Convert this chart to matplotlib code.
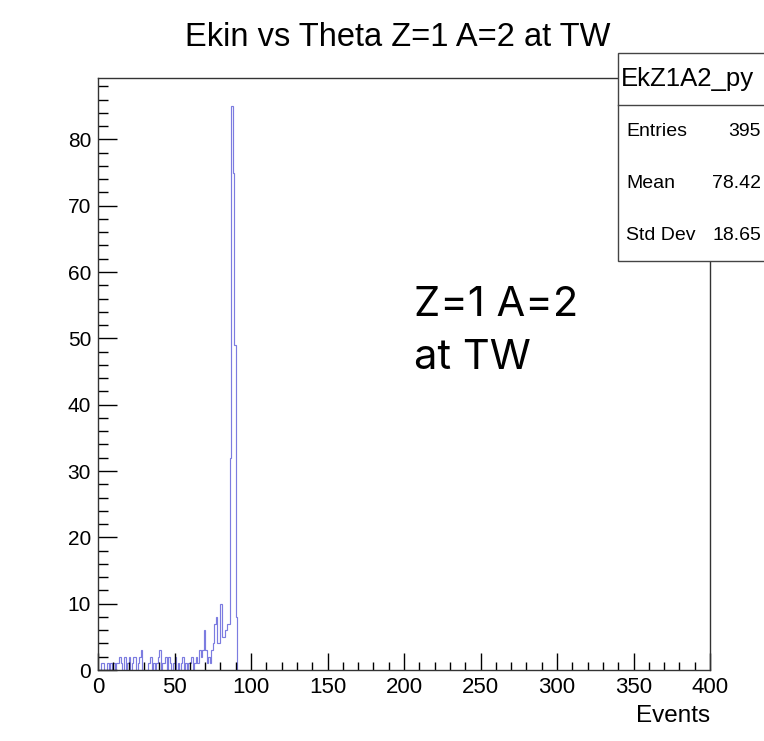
#!/usr/bin/env python3
"""
ROOT-style projection histogram: Ekin vs Theta, Z=1 A=2 at TW
"""

import numpy as np
import matplotlib
matplotlib.use("Agg")
import matplotlib.pyplot as plt
from matplotlib.patches import Rectangle
from matplotlib.ticker import MultipleLocator

plt.rcParams["font.family"] = ["Liberation Sans", "DejaVu Sans"]

# bin contents, 1-unit bins starting at 0
counts = [
    0, 0, 1, 1, 0, 0, 1, 0, 1, 0,
    1, 0, 1, 1, 2, 1, 0, 2, 0, 1,
    2, 0, 1, 2, 2, 0, 1, 2, 3, 0,
    0, 0, 0, 1, 2, 0, 1, 0, 1, 2,
    3, 0, 1, 1, 2, 0, 2, 1, 0, 1,
    2, 0, 1, 0, 1, 2, 0, 1, 0, 1,
    1, 2, 0, 1, 2, 1, 3, 2, 3, 6,
    3, 1, 2, 1, 3, 4, 7, 8, 4, 4,
    10, 5, 5, 6, 7, 7, 32, 85, 75, 49,
    8, 0,
]
bin_edges = np.arange(0, len(counts) + 1)

hist_name = "EkZ1A2_py"
stat_labels = ["Entries", "Mean", "Std Dev"]
stat_values = ["395", "78.42", "18.65"]

W, H = 764, 741
fig = plt.figure(figsize=(W / 100, H / 100), dpi=100)
ax = fig.add_axes([98 / W, 1 - 670 / H, (710 - 98) / W, (670 - 78) / H])

ax.stairs(counts, bin_edges, color="#7c7ce0", linewidth=0.85, baseline=0)

ax.set_xlim(0, 400)
ax.set_ylim(0, 89.25)
ax.xaxis.set_major_locator(MultipleLocator(50))
ax.xaxis.set_minor_locator(MultipleLocator(10))
ax.yaxis.set_major_locator(MultipleLocator(10))
ax.yaxis.set_minor_locator(MultipleLocator(2))
ax.tick_params(axis="both", which="both", direction="in", top=False, right=False, colors="black")
ax.tick_params(axis="x", which="major", length=12.5, width=1.0, labelsize=16, pad=5)
ax.tick_params(axis="x", which="minor", length=6, width=1.0)
ax.tick_params(axis="y", which="major", length=13.5, width=1.0, labelsize=15, pad=5)
ax.tick_params(axis="y", which="minor", length=7, width=1.0)
for s in ax.spines.values():
    s.set_linewidth(1.0)
    s.set_color("#333333")

ax.set_xlabel("Events", loc="right", fontsize=17.5, labelpad=5)

fig.text(398 / W, 1 - 37 / H, "Ekin vs Theta Z=1 A=2 at TW", ha="center", va="center", fontsize=23.5)

# annotation inside the frame
ax.text(0.516, 1 - (305 - 78) / (670 - 78), "Z=1 A=2", transform=ax.transAxes,
        fontsize=30, ha="left", va="center", family=["Inter", "DejaVu Sans"])
ax.text(0.516, 1 - (358 - 78) / (670 - 78), "at TW", transform=ax.transAxes,
        fontsize=30, ha="left", va="center", family=["Inter", "DejaVu Sans"])

# stats box (runs off the right edge like the original)
bx0, by0, bx1, by1 = 618, 53, 775, 261
fig.patches.append(Rectangle((bx0 / W, 1 - by1 / H), (bx1 - bx0) / W, (by1 - by0) / H,
                             transform=fig.transFigure, facecolor="white",
                             edgecolor="#444444", linewidth=1.0, zorder=5))
fig.add_artist(plt.Line2D([bx0 / W, bx1 / W], [1 - 105 / H, 1 - 105 / H],
                          transform=fig.transFigure, color="#444444", linewidth=1.0, zorder=6))
fig.text(621 / W, 1 - 79 / H, hist_name, ha="left", va="center", fontsize=18.5, zorder=7)
row_y = [132, 184, 236]
for lab, val, y in zip(stat_labels, stat_values, row_y):
    fig.text(626 / W, 1 - y / H, lab, ha="left", va="center", fontsize=14, zorder=7)
    fig.text(761 / W, 1 - y / H, val, ha="right", va="center", fontsize=14, zorder=7)

fig.savefig("out.png", dpi=100)
